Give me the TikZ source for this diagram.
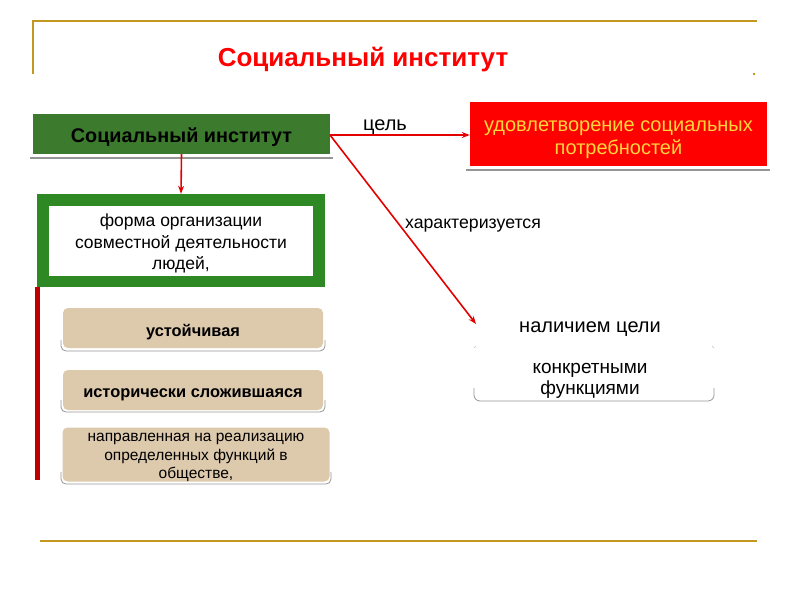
\documentclass[tikz,border=0pt]{standalone}
\usepackage{fontspec}
\setmainfont{Liberation Sans}
\usepackage{tikz}
\usetikzlibrary{positioning}
\usetikzlibrary{calc,arrows.meta}

\definecolor{GoldLine}{RGB}{196,152,32}
\definecolor{InstGreen}{RGB}{60,122,45}
\definecolor{FrameGreen}{RGB}{46,136,36}
\definecolor{BarRed}{RGB}{192,0,0}
\definecolor{GoalYellow}{RGB}{255,214,60}
\definecolor{Beige}{RGB}{221,201,172}
\definecolor{ShadowGray}{RGB}{150,150,150}

\tikzset{
	redarrow/.style={draw=red!90!black, line width=1.6pt, -{Stealth[length=8pt,width=6pt]}},
	beigebox/.style={fill=Beige, rounded corners=5pt, minimum width=260pt},
	shadowline/.style={draw=ShadowGray, line width=1.6pt},
	bottomedge/.style={draw=ShadowGray, line width=0.8pt, rounded corners=5pt},
}

\begin{document}
\begin{tikzpicture}[x=1pt,y=-1pt]
	
	\useasboundingbox (0,0) rectangle (800,600);
	
	% frame of the slide
	\draw[GoldLine, line width=1.5pt] (33,74) -- (33,21) -- (757,21);
	\draw[GoldLine, line width=1.5pt] (40,541) -- (757,541);
	\fill[GoldLine] (752.5,72.5) rectangle (754.5,74.5);
	
	% title
	\node[text=red, font=\fontsize{26}{30}\selectfont\bfseries] (Title) at (363,60) {Социальный институт};
	
	%%%%%%%%%%%%%%%%%%%%%%%%%%%%%%%%%%%%%%%%%%%%%%%%%%%%%%%%%%%%%%
	% left column
	\draw[shadowline] (30,158) -- (333,158);
	\node[fill=InstGreen, minimum width=297pt, minimum height=40pt] (Inst) at (181.5,134) {};
	\node[font=\fontsize{19.8}{22}\selectfont\bfseries] (InstText) at (181.5,137) {Социальный институт};
	
	\node[fill=FrameGreen, minimum width=288pt, minimum height=93pt] (Frame) at (181,240.5) {};
	\node[fill=white, minimum width=264pt, minimum height=70pt] (Form) at (181,241) {};
	\node[align=center, font=\fontsize{17.5}{21.5}\selectfont] (FormText) at (181,243.5)
		{форма организации\\совместной деятельности\\людей,};
	
	\draw[redarrow] (Inst.south) -- (Frame.north);
	
	% red bar along the properties
	\fill[BarRed] (35,287) rectangle (40,480);
	
	% properties
	\draw[bottomedge] (61,340) -- (61,351) -- (325,351) -- (325,340);
	\node[beigebox, minimum height=40pt] (Prop1) at (193,328) {};
	\node[font=\fontsize{16.4}{19}\selectfont\bfseries] (Prop1Text) at (193,332) {устойчивая};
	
	\draw[bottomedge] (61,400) -- (61,412) -- (325,412) -- (325,400);
	\node[beigebox, minimum height=40pt] (Prop2) at (193,390) {};
	\node[font=\fontsize{16.4}{19}\selectfont\bfseries] (Prop2Text) at (193,394.5) {исторически сложившаяся};
	
	\draw[bottomedge] (61,472) -- (61,484) -- (331,484) -- (331,472);
	\node[beigebox, minimum width=267pt, minimum height=54pt] (Prop3) at (196,454.5) {};
	\node[align=center, font=\fontsize{15.5}{18.5}\selectfont] (Prop3Text) at (196,457.5)
		{направленная на реализацию\\определенных функций в\\обществе,};
	
	%%%%%%%%%%%%%%%%%%%%%%%%%%%%%%%%%%%%%%%%%%%%%%%%%%%%%%%%%%%%%%
	% right column
	\draw[shadowline] (466,170) -- (770,170);
	\node[fill=red, minimum width=297pt, minimum height=64pt] (Goal) at (618.5,134) {};
	\node[align=center, text=GoalYellow, font=\fontsize{20}{23}\selectfont] (GoalText) at (618.5,140)
		{удовлетворение социальных\\потребностей};
	
	\coordinate (Start) at (330,135);
	\coordinate (Target) at (476,324);
	
	\draw[redarrow] (Start) -- (Goal.west |- Start);
	\draw[redarrow] (Start) -- (Target);
	
	\node[font=\fontsize{20}{22}\selectfont] (GoalLabel) at (385,127.5) {цель};
	\node[font=\fontsize{17.7}{20}\selectfont] (CharLabel) at (473,226) {характеризуется};
	
	\node[font=\fontsize{20}{22}\selectfont] (Aim) at (590,329.5) {наличием цели};
	\draw[bottomedge, rounded corners=6pt] (474,388) -- (474,401) -- (714,401) -- (714,388);
	\draw[ShadowGray!60, line width=0.6pt] (474,348) -- (476,346) (712,346) -- (714,348);
	\node[align=center, font=\fontsize{19}{21}\selectfont] (Func) at (590,380.5)
		{конкретными\\функциями};
	
\end{tikzpicture}
\end{document}
